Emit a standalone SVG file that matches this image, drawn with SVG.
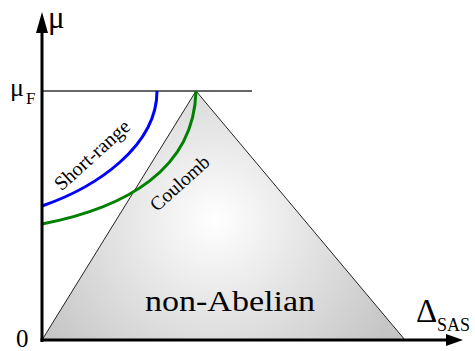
<svg xmlns="http://www.w3.org/2000/svg" width="475" height="351" viewBox="0 0 475 351">
<defs>
<radialGradient id="g" gradientUnits="userSpaceOnUse" cx="215" cy="220" r="200">
<stop offset="0" stop-color="#ffffff"/>
<stop offset="1" stop-color="#c6c6c6"/>
</radialGradient>
<style>
text{font-family:"Liberation Serif","Times New Roman",serif;fill:#000}
.axis{stroke:#000;stroke-width:3;fill:none}
.curve{fill:none;stroke-width:3}
</style>
</defs>
<rect width="475" height="351" fill="#fff"/>
<g id="region">
<polygon points="196,91 42,340 405,340" fill="url(#g)" stroke="#222" stroke-width="1"/>
<text x="145" y="311" font-size="29" textLength="170" lengthAdjust="spacingAndGlyphs">non-Abelian</text>
</g>
<g id="connectors">
<line x1="42" y1="91" x2="252" y2="91" stroke="#333" stroke-width="1.6"/>
<path class="curve" stroke="#0000ff" d="M42,206 C97,187 157,146 157,91"/>
<path class="curve" stroke="#008000" d="M42,224 C125,208 194,170 196,91"/>
<line class="axis" x1="42" y1="342" x2="42" y2="30"/>
<polygon points="42,12 36,33 48,33" fill="#000"/>
<line class="axis" x1="40.5" y1="340" x2="448" y2="340"/>
<polygon points="463,340 446,334 446,346" fill="#000"/>
</g>
<g id="labels">
<text x="48" y="28" font-size="31">μ</text>
<text x="10" y="96" font-size="26">μ</text>
<text x="26" y="104" font-size="17">F</text>
<text x="16" y="347" font-size="25">0</text>
<text x="416" y="322" font-size="33">Δ</text>
<text x="437" y="331" font-size="18">SAS</text>
<text transform="translate(96.5,160) rotate(-42)" text-anchor="middle" font-size="20">Short-range</text>
<text transform="translate(184,188) rotate(-42)" text-anchor="middle" font-size="19.5">Coulomb</text>
</g>
</svg>
